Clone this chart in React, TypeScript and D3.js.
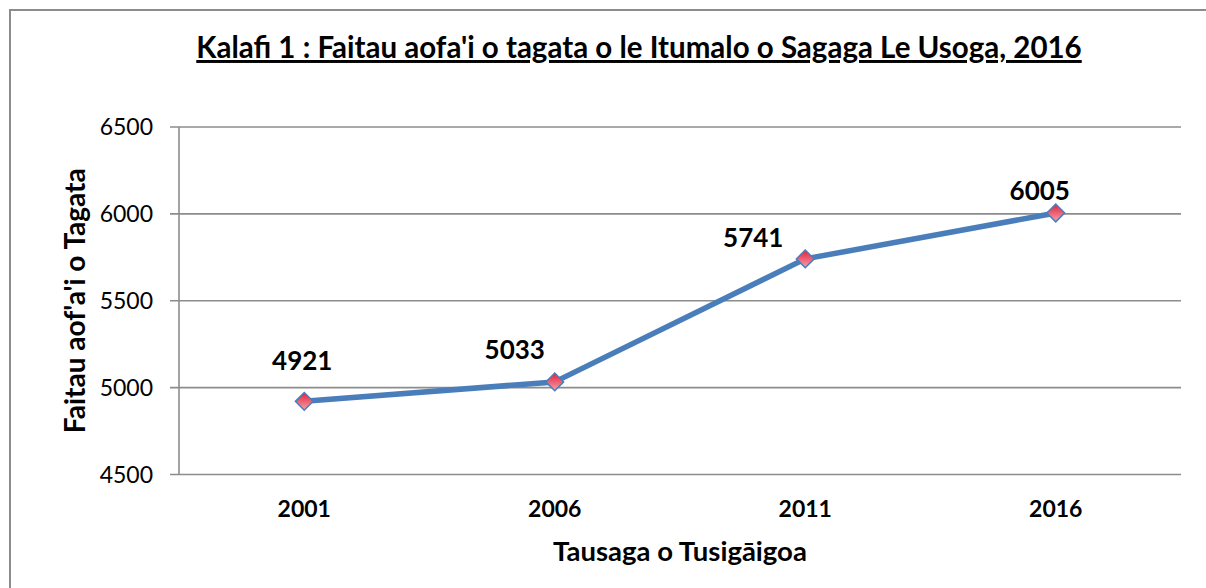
import React from "react";
import * as d3 from "d3";

const years = ["2001", "2006", "2011", "2016"];
const population = [4921, 5033, 5741, 6005];
const yTicks = [4500, 5000, 5500, 6000, 6500];
const labelDx = [-2, -40, -52, -16];
const labelDy = [-31, -23, -12, -13];

const titleText = "Kalafi 1 : Faitau aofa'i o tagata o le Itumalo o Sagaga Le Usoga, 2016";
const xTitle = "Tausaga o Tusigāigoa";
const yTitle = "Faitau aof'a'i o Tagata";

const W = 1206;
const H = 588;
const plot = { left: 179, right: 1181, top: 127, bottom: 474.5 };
const FONT = "Lato, 'Open Sans', sans-serif";

export default function App() {
  const x = d3.scaleBand<string>().domain(years).range([plot.left, plot.right]);
  const y = d3.scaleLinear().domain([4500, 6500]).range([plot.bottom, plot.top]);
  const cx = (d: string) => (x(d) as number) + x.bandwidth() / 2;
  const line = d3
    .line<number>()
    .x((_, i) => cx(years[i]))
    .y((v) => y(v));
  const diamond = d3.symbol().type(d3.symbolDiamond2).size(2 * 10 * 10)();

  return (
    <svg width={W} height={H} style={{ position: "absolute", left: 0, top: 0, background: "#fff" }}>
      <defs>
        <linearGradient id="mk" x1="0" y1="0" x2="0" y2="1">
          <stop offset="0%" stopColor="#e4203a" />
          <stop offset="100%" stopColor="#f4a3ad" />
        </linearGradient>
      </defs>
      <rect x={10} y={10} width={W + 20} height={H + 20} fill="#fff" stroke="#8c8c8c" strokeWidth={2} />
      <text
        x={639}
        y={58}
        textAnchor="middle"
        fontFamily={FONT}
        fontWeight="bold"
        fontSize={29.5}
        textDecoration="underline"
        fill="#000"
      >
        {titleText}
      </text>
      {yTicks.map((t) => (
        <g key={t}>
          <line x1={plot.left - 9} x2={plot.right} y1={y(t)} y2={y(t)} stroke="#8c8c8c" strokeWidth={1.6} />
          <text x={153} y={y(t) + 8} textAnchor="end" fontFamily={FONT} fontSize={23} fill="#000">
            {t}
          </text>
        </g>
      ))}
      <line x1={plot.left} x2={plot.left} y1={plot.top} y2={plot.bottom} stroke="#8c8c8c" strokeWidth={1.6} />
      {years.map((yr) => (
        <text key={yr} x={cx(yr)} y={517} textAnchor="middle" fontFamily={FONT} fontWeight="bold" fontSize={23} fill="#000">
          {yr}
        </text>
      ))}
      <text x={(plot.left + plot.right) / 2} y={561} textAnchor="middle" fontFamily={FONT} fontWeight="bold" fontSize={27.5} fill="#000">
        {xTitle}
      </text>
      <text
        transform={`translate(85, ${(plot.top + plot.bottom) / 2}) rotate(-90)`}
        textAnchor="middle"
        fontFamily={FONT}
        fontWeight="bold"
        fontSize={28}
        fill="#000"
      >
        {yTitle}
      </text>
      <path d={line(population) || ""} fill="none" stroke="#4a7ebb" strokeWidth={5.5} strokeLinejoin="round" strokeLinecap="round" />
      {population.map((v, i) => (
        <path
          key={i}
          d={diamond || ""}
          transform={`translate(${cx(years[i])}, ${y(v)})`}
          fill="url(#mk)"
          stroke="#4a7ebb"
          strokeWidth={1.5}
        />
      ))}
      {population.map((v, i) => (
        <text
          key={"l" + i}
          x={cx(years[i]) + labelDx[i]}
          y={y(v) + labelDy[i]}
          textAnchor="middle"
          fontFamily={FONT}
          fontWeight="bold"
          fontSize={26}
          fill="#000"
        >
          {v}
        </text>
      ))}
    </svg>
  );
}
